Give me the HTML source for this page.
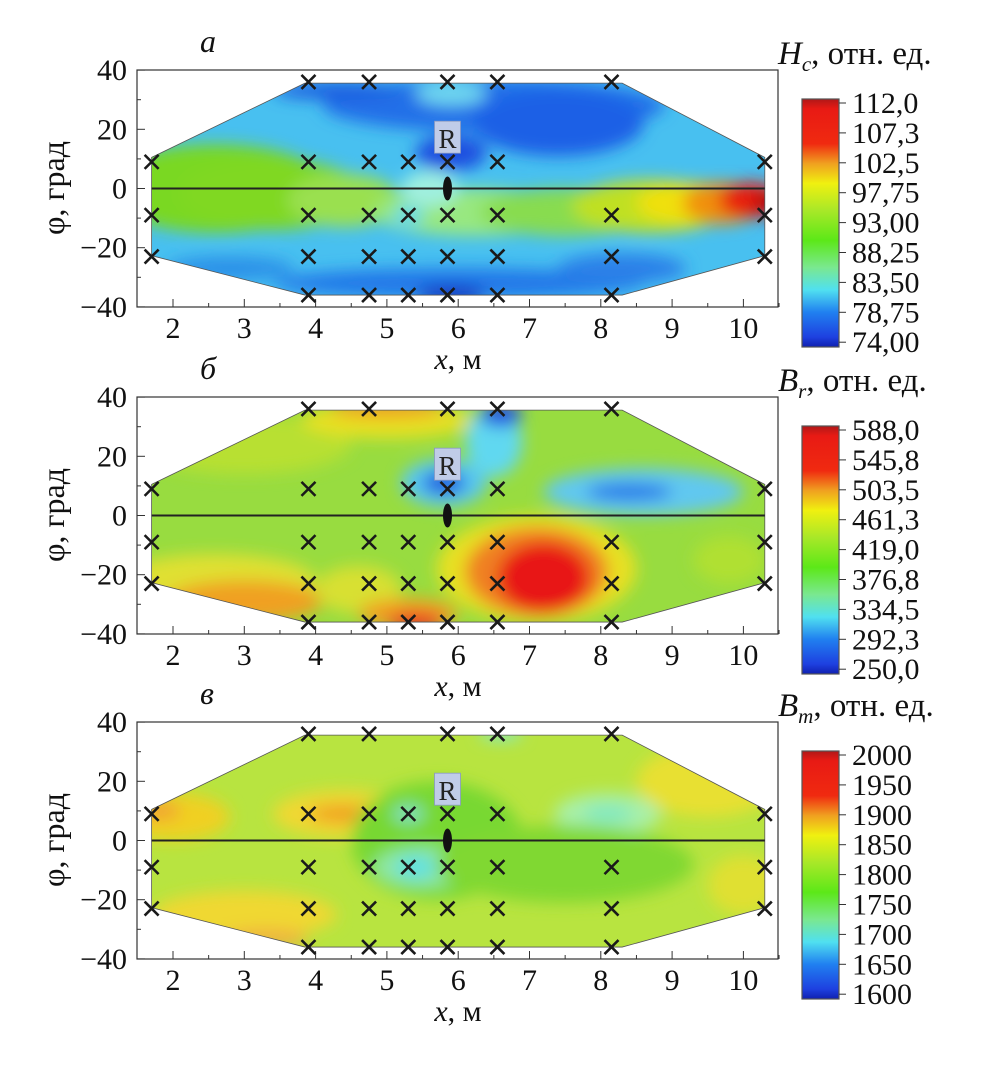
<!DOCTYPE html>
<html><head><meta charset="utf-8">
<style>
html,body{margin:0;padding:0;background:#fff;}
svg{display:block;}
svg text{font-family:"Liberation Serif","DejaVu Serif",serif;}
</style></head>
<body>
<svg id="chart" width="990" height="1071" viewBox="0 0 990 1071" xmlns="http://www.w3.org/2000/svg" font-family="Liberation Serif, serif">
<defs>
<filter id="blur" x="-30%" y="-30%" width="160%" height="160%"><feGaussianBlur stdDeviation="8"/></filter>
<linearGradient id="jet" x1="0" y1="0" x2="0" y2="1">
<stop offset="0" stop-color="#b01818"/><stop offset="0.04" stop-color="#e81a14"/><stop offset="0.18" stop-color="#f02a10"/>
<stop offset="0.26" stop-color="#f0a020"/><stop offset="0.34" stop-color="#f0f010"/><stop offset="0.45" stop-color="#a8e828"/>
<stop offset="0.57" stop-color="#5ce818"/><stop offset="0.68" stop-color="#7ae890"/><stop offset="0.77" stop-color="#50e0f0"/>
<stop offset="0.86" stop-color="#2080f0"/><stop offset="0.96" stop-color="#1e40e0"/><stop offset="1" stop-color="#1020b0"/>
</linearGradient>
</defs>
</svg>
<script>
const NS='http://www.w3.org/2000/svg';
const svg=document.getElementById('chart');
const xTicks=[2,3,4,5,6,7,8,9,10];
const yTicks=[40,20,0,-20,-40];
const hexagon=[[1.7,10.5],[3.85,35.6],[8.3,35.6],[10.3,10.5],[10.3,-22.7],[8.3,-36],[3.85,-36],[1.7,-22.7]];
const crossRows=[
 [36,[3.9,4.75,5.85,6.55,8.15]],
 [9,[1.7,3.9,4.75,5.3,5.85,6.55,10.3]],
 [-9,[1.7,3.9,4.75,5.3,5.85,6.55,8.15,10.3]],
 [-23,[1.7,3.9,4.75,5.3,5.85,6.55,8.15,10.3]],
 [-36,[3.9,4.75,5.3,5.85,6.55,8.15]]
];
const panelLetters=['а','б','в'];
const panelTitles=[['H','c'],['B','r'],['B','m']];
const cbLabelsA=['112,0','107,3','102,5','97,75','93,00','88,25','83,50','78,75','74,00'];
const cbLabelsB=['588,0','545,8','503,5','461,3','419,0','376,8','334,5','292,3','250,0'];
const cbLabelsC=['2000','1950','1900','1850','1800','1750','1700','1650','1600'];
const baseColors=['#48c0f0','#98dc40','#b8e440'];
// blobs: x, phi, rx (m), ry (deg), color
const blobsA=[
 [2.6,0,1.6,15,'#7ad820'],[3.4,-2,1.3,12,'#80d820'],[4.4,-4,0.8,9,'#9ae050'],[6.2,-8,1.4,8,'#98e880'],[7.5,-8,1.2,8,'#88dc50'],
 [8.7,-6,1.1,9,'#c0e020'],[9.3,-5,0.8,7,'#f0e010'],[9.7,-5,0.55,7,'#f09010'],[10.1,-4,0.45,6,'#e81a10'],[10.35,-5,0.2,4,'#b01010'],
 [6.5,28,2.4,9,'#2070e8'],[4.3,33,0.9,3,'#1e5fe0'],[7.4,22,1.2,11,'#1c60e6'],[5.9,32,0.5,4,'#70d8f0'],[5.9,12,0.5,6,'#1a50e0'],
 [6.0,-32,2.6,5,'#2078e8'],[5.9,-36,0.5,3,'#1830c0'],[8.3,-27,0.9,5,'#2a80e8'],[5.3,-9,0.22,3,'#60d8f0'],[2.8,-27,0.9,4,'#2a90e8'],
 [5.6,0,0.4,6,'#a0f0e0']
];
const blobsB=[
 [3.0,24,1.5,10,'#b8e030'],[5.0,32,1.2,6,'#e8e020'],[5.0,36,0.8,3,'#f0a020'],[6.5,25,0.4,12,'#60d8f0'],[6.6,34,0.3,4,'#2050e0'],
 [5.8,11,0.6,8,'#58c8f0'],[5.8,11,0.3,4,'#2060e0'],[8.6,8,1.4,8,'#60c8f0'],[8.4,8,0.6,3,'#2878e8'],
 [7.1,-18,1.4,18,'#e8e020'],[7.1,-19,1.0,15,'#f08020'],[7.2,-21,0.65,12,'#e81818'],
 [2.6,-22,1.4,9,'#e0e030'],[3.0,-29,1.1,7,'#f0a020'],[4.6,-25,0.6,8,'#d8e030'],[5.3,-33,0.7,5,'#f0a020'],[5.4,-36,0.4,3,'#e82020'],
 [9.8,-15,0.5,8,'#b0e030']
];
const blobsC=[
 [2.0,8,0.8,8,'#f0d020'],[1.8,10,0.3,3,'#f0a030'],[4.4,9,1.0,8,'#f0d830'],[4.4,9,0.5,3,'#f0a020'],
 [5.7,0,1.2,20,'#78d830'],[5.5,-9,0.7,7,'#90e8a0'],[5.4,-9,0.3,4,'#60e0e0'],[5.3,9,0.22,3,'#80e0c0'],
 [8.1,9,0.75,7,'#a8f0a8'],[8.1,9,0.35,3,'#80e8c0'],[7.5,-8,1.8,13,'#80d830'],[9.5,20,1.0,12,'#e8e030'],
 [3.0,-25,1.3,8,'#f0d830'],[3.3,-33,0.6,3,'#f0b040'],[6.6,36,0.3,2,'#80e8d0'],[10.0,-15,0.5,10,'#e0e030']
];
const blobSets=[blobsA,blobsB,blobsC];
const cbSets=[cbLabelsA,cbLabelsB,cbLabelsC];
const panelTops=[70,397,722];
const cbTops=[99,426,751];
const H=237, X0=137, X1=778;
const FF='Liberation Serif, serif';
function el(tag,attrs,parent){const e=document.createElementNS(NS,tag);for(const k in attrs)e.setAttribute(k,attrs[k]);(parent||svg).appendChild(e);return e;}
const sx=v=>173+(v-2)*71.3;

panelTops.forEach((top,pi)=>{
 const sy=v=>top+118.5-v*2.96;
 const g=el('g',{'font-family':FF});
 
 
 const cid='clip'+pi;
 const cp=el('clipPath',{id:cid},g);
 const pts=hexagon.map(p=>sx(p[0])+','+sy(p[1])).join(' ');
 el('polygon',{points:pts},cp);
 const field=el('g',{'clip-path':'url(#'+cid+')'},g);
 
 
 el('rect',{x:X0,y:top,width:X1-X0,height:H,fill:baseColors[pi]},field);
 const bg=el('g',{filter:'url(#blur)'},field);
 blobSets[pi].forEach(b=>{
  const e=el('ellipse',{cx:sx(b[0]),cy:sy(b[1]),rx:b[2]*71.3,ry:b[3]*2.96,fill:b[4]},bg);
  
  
 });
 el('polygon',{points:pts,fill:'none',stroke:'#555','stroke-width':0.8},g);
 el('line',{x1:sx(1.7),x2:sx(10.3),y1:sy(0),y2:sy(0),stroke:'#222','stroke-width':2},g);
 const fr=el('rect',{x:X0,y:top,width:X1-X0,height:H,fill:'none',stroke:'#333','stroke-width':1.2},g);
 
 
 xTicks.forEach(t=>{
  el('line',{x1:sx(t),x2:sx(t),y1:top+H,y2:top+H-8,stroke:'#333','stroke-width':1},g);
  el('line',{x1:sx(t+0.5),x2:sx(t+0.5),y1:top+H,y2:top+H-4,stroke:'#333','stroke-width':1},g);
  const tx=el('text',{x:sx(t),y:top+H+31,'font-size':30,'text-anchor':'middle',fill:'#111','font-family':FF},g);
  tx.textContent=t;
  
  
 });
 yTicks.forEach(t=>{
  el('line',{x1:X0,x2:X0+8,y1:sy(t),y2:sy(t),stroke:'#333','stroke-width':1},g);
  if(t>-40) el('line',{x1:X0,x2:X0+4,y1:sy(t-10),y2:sy(t-10),stroke:'#333','stroke-width':1},g);
  const ty=el('text',{x:X0-10,y:sy(t)+10,'font-size':30,'text-anchor':'end',fill:'#111','font-family':FF},g);
  ty.textContent=t<0?'−'+(-t):t;
  
  
 });
 crossRows.forEach(r=>{r[1].forEach(x=>{
  const c=el('path',{d:`M${sx(x)-7},${sy(r[0])-7}l14,14M${sx(x)+7},${sy(r[0])-7}l-14,14`,stroke:'#1a1a1a','stroke-width':2.6},g);
  
  
 });});
 const rb=el('rect',{x:sx(5.85)-13,y:sy(17)-17,width:26,height:32,fill:'#c0cce8',stroke:'#8898c0','stroke-width':0.8},g);
 
 
 const rt=el('text',{x:sx(5.85),y:sy(17)+10,'font-size':27,'text-anchor':'middle',fill:'#222','font-family':FF},g);
 rt.textContent='R';
 
 
 const re=el('ellipse',{cx:sx(5.85),cy:sy(0),rx:4.5,ry:12,fill:'#111'},g);
 
 
 const xl=el('text',{x:458,y:top+H+62,'font-size':30,'text-anchor':'middle',fill:'#111','font-family':FF},g);
 xl.innerHTML='<tspan font-style="italic">x</tspan>, м';
 
 
 const yl=el('text',{x:0,y:0,'font-size':32,'text-anchor':'middle',fill:'#111','font-family':FF,transform:`translate(64,${top+118}) rotate(-90)`},g);
 yl.textContent='φ, град';
 
 
 const lt=el('text',{x:200,y:top-18,'font-size':32,'font-style':'italic',fill:'#111','font-family':FF},g);
 lt.textContent=panelLetters[pi];
 
 
 const cbt=cbTops[pi];
 const cb=el('rect',{x:802,y:cbt,width:37,height:248,fill:'url(#jet)',stroke:'#555','stroke-width':1.2},g);
 
 
 cbSets[pi].forEach((lab,i)=>{
  const yy=cbt+4+i*29.9;
  el('line',{x1:839,x2:846,y1:yy,y2:yy,stroke:'#333','stroke-width':1},g);
  const ct=el('text',{x:852,y:yy+10,'font-size':30,fill:'#111','font-family':FF},g);
  ct.textContent=lab;
  
  
 });
 const tt=el('text',{x:778,y:cbt-35,'font-size':33,fill:'#111','font-family':FF},g);
 tt.innerHTML=`<tspan font-style="italic">${panelTitles[pi][0]}</tspan><tspan font-style="italic" font-size="21" dy="7">${panelTitles[pi][1]}</tspan><tspan dy="-7">, отн. ед.</tspan>`;
 
 
});
</script>
</body></html>
